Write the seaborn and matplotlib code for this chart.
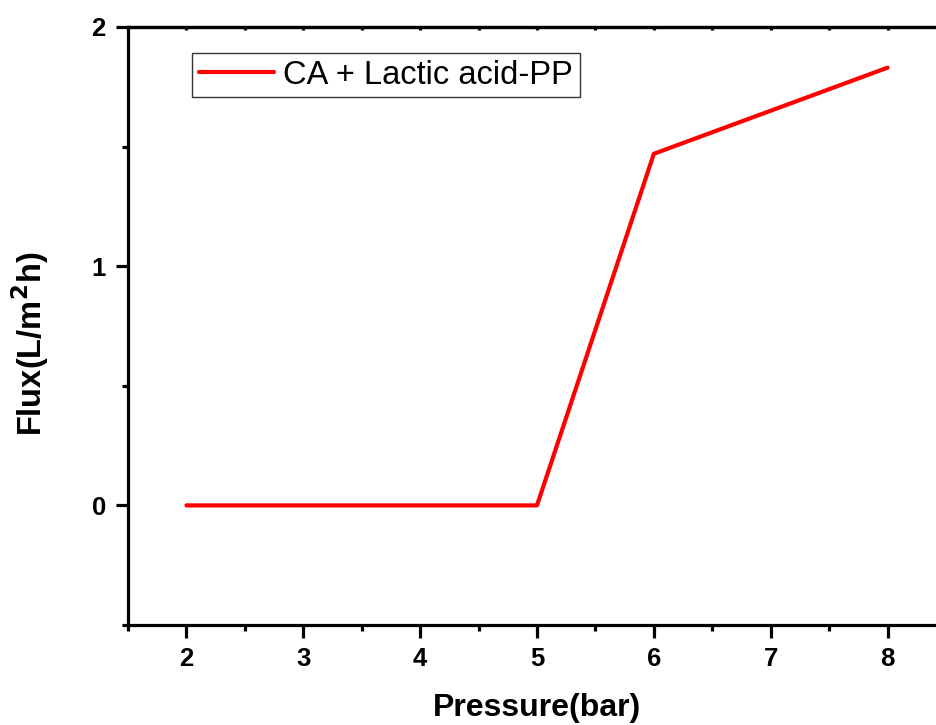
import matplotlib
matplotlib.use("Agg")
import matplotlib.pyplot as plt
import seaborn as sns
import pandas as pd
from matplotlib.ticker import MultipleLocator

pressure = [2, 3, 4, 5, 6, 7, 8]
flux = [0.0, 0.0, 0.0, 0.0, 1.47, 1.65, 1.83]
series_name = "CA + Lactic acid-PP"

df = pd.DataFrame({"Pressure": pressure, "Flux": flux, "Series": series_name})

sns.set_style("ticks")
plt.rcParams["font.family"] = ["Liberation Sans", "DejaVu Sans"]
plt.rcParams["text.color"] = "black"
plt.rcParams["axes.labelcolor"] = "black"
plt.rcParams["xtick.color"] = "black"
plt.rcParams["ytick.color"] = "black"

fig = plt.figure(figsize=(9.36, 7.25), dpi=100)
ax = fig.add_axes([128/936, 100/725, 818/936, 598/725])

sns.lineplot(data=df, x="Pressure", y="Flux", hue="Series", palette=["#ff0000"],
             linewidth=3.0, ax=ax, legend=True)

ax.set_xlim(1.5, 8.5)
ax.set_ylim(-0.5, 2)
ax.xaxis.set_major_locator(MultipleLocator(1))
ax.xaxis.set_minor_locator(MultipleLocator(0.5))
ax.yaxis.set_major_locator(MultipleLocator(1))
ax.yaxis.set_minor_locator(MultipleLocator(0.5))

for s in ax.spines.values():
    s.set_linewidth(2.3)
    s.set_color("black")
ax.spines["right"].set_visible(False)

ax.tick_params(axis="both", which="major", direction="out", length=9, width=2.3,
               labelsize=18.5, pad=7, colors="black")
ax.tick_params(axis="both", which="minor", direction="out", length=4.5, width=2.3)
ax.tick_params(axis="x", which="both", top=False)
for lab in ax.get_xticklabels() + ax.get_yticklabels():
    lab.set_fontweight("bold")

# top ticks: tiny inward marks
ax2 = ax.secondary_xaxis("top")
ax2.xaxis.set_major_locator(MultipleLocator(1))
ax2.xaxis.set_minor_locator(MultipleLocator(0.5))
ax2.tick_params(which="both", direction="in", length=2, width=2.3, labeltop=False,
                colors="black")
ax2.spines["top"].set_linewidth(2.3)
ax2.spines["top"].set_color("black")

ax.set_xlabel("Pressure(bar)", fontsize=23, fontweight="bold", color="black")
ax.xaxis.label.set_va("baseline")
ax.xaxis.set_label_coords(0.5, -91/598)

ax.set_ylabel("Flux(L/m$^\\mathbf{2}$h)", fontsize=23.5, fontweight="bold", color="black")
ax.yaxis.label.set_va("center")
ax.yaxis.set_label_coords(-98/818, 281/598)

leg = ax.legend(loc="upper left", bbox_to_anchor=(64/818, 1 - 26/598), fontsize=23.5,
                frameon=True, fancybox=False, edgecolor="black", handlelength=2.3,
                borderpad=0.2, handletextpad=0.3, borderaxespad=0)
leg.get_frame().set_linewidth(1.0)
for l in leg.get_lines():
    l.set_linewidth(3.0)
for t in leg.get_texts():
    t.set_color("black")

fig.savefig("out.png", dpi=100)
